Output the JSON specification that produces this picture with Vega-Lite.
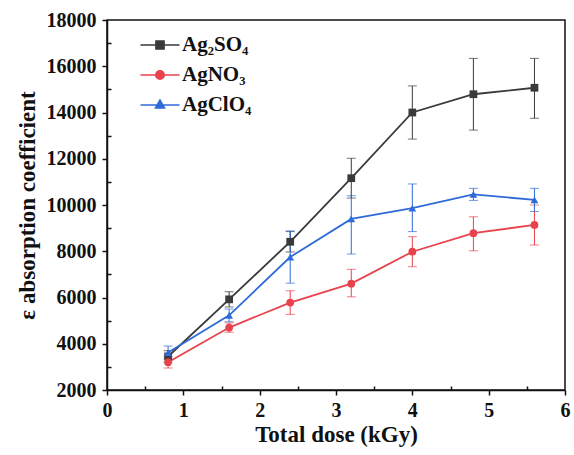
{
  "$schema": "https://vega.github.io/schema/vega-lite/v6.json",
  "autosize": "none",
  "width": 458,
  "height": 370,
  "padding": {"left": 107, "top": 20, "right": 9, "bottom": 65},
  "background": "white",
  "config": {
    "view": {"stroke": "#111", "strokeWidth": 1.5},
    "font": "Liberation Serif",
    "axis": {
      "domainColor": "#111",
      "domainWidth": 1.5,
      "tickColor": "#111",
      "tickWidth": 1.5,
      "grid": false,
      "labelFlush": false,
      "labelFont": "Liberation Serif",
      "labelFontWeight": "bold",
      "labelFontSize": 20,
      "labelColor": "#111",
      "titleFont": "Liberation Serif",
      "titleFontWeight": "bold",
      "titleFontSize": 23,
      "titleColor": "#111"
    },
    "legend": {
      "labelFont": "Liberation Serif",
      "labelFontWeight": "bold",
      "labelFontSize": 21,
      "labelColor": "#111"
    }
  },
  "data": {
    "values": [
      {"series": "Ag₂SO₄", "dose": 0.8, "value": 3450, "lo": 3200, "hi": 3700},
      {"series": "Ag₂SO₄", "dose": 1.6, "value": 5920, "lo": 5590, "hi": 6250},
      {"series": "Ag₂SO₄", "dose": 2.4, "value": 8410, "lo": 7970, "hi": 8850},
      {"series": "Ag₂SO₄", "dose": 3.2, "value": 11160, "lo": 10300, "hi": 12020},
      {"series": "Ag₂SO₄", "dose": 4.0, "value": 14000, "lo": 12850, "hi": 15150},
      {"series": "Ag₂SO₄", "dose": 4.8, "value": 14790, "lo": 13240, "hi": 16340},
      {"series": "Ag₂SO₄", "dose": 5.6, "value": 15070, "lo": 13750, "hi": 16340},
      {"series": "AgNO₃", "dose": 0.8, "value": 3200, "lo": 2950, "hi": 3450},
      {"series": "AgNO₃", "dose": 1.6, "value": 4700, "lo": 4500, "hi": 4900},
      {"series": "AgNO₃", "dose": 2.4, "value": 5780, "lo": 5270, "hi": 6290},
      {"series": "AgNO₃", "dose": 3.2, "value": 6600, "lo": 6030, "hi": 7220},
      {"series": "AgNO₃", "dose": 4.0, "value": 7980, "lo": 7330, "hi": 8630},
      {"series": "AgNO₃", "dose": 4.8, "value": 8780, "lo": 8020, "hi": 9490},
      {"series": "AgNO₃", "dose": 5.6, "value": 9140, "lo": 8270, "hi": 10000},
      {"series": "AgClO₄", "dose": 0.8, "value": 3620, "lo": 3350, "hi": 3900},
      {"series": "AgClO₄", "dose": 1.6, "value": 5230, "lo": 4950, "hi": 5500},
      {"series": "AgClO₄", "dose": 2.4, "value": 7750, "lo": 6620, "hi": 8880},
      {"series": "AgClO₄", "dose": 3.2, "value": 9400, "lo": 7880, "hi": 10400},
      {"series": "AgClO₄", "dose": 4.0, "value": 9860, "lo": 8850, "hi": 10910},
      {"series": "AgClO₄", "dose": 4.8, "value": 10460, "lo": 10200, "hi": 10720},
      {"series": "AgClO₄", "dose": 5.6, "value": 10220, "lo": 9720, "hi": 10720}
    ]
  },
  "resolve": {"axis": {"x": "independent", "y": "independent"}},
  "layer": [
    {
      "mark": {"type": "errorbar", "thickness": 1, "ticks": {"size": 9, "thickness": 1}},
      "encoding": {
        "x": {"field": "dose", "type": "quantitative", "axis": null},
        "y": {"field": "lo", "type": "quantitative", "axis": null},
        "y2": {"field": "hi"},
        "color": {
          "field": "series", "type": "nominal",
          "scale": {"domain": ["Ag₂SO₄", "AgNO₃", "AgClO₄"], "range": ["#3a3a3a", "#e8434d", "#2f6bd8"]},
          "legend": {
            "title": null,
            "orient": "none",
            "legendX": 37,
            "legendY": 9,
            "symbolSize": 900,
            "rowPadding": 4,
            "labelOffset": 6,
            "encode": {
              "symbols": {
                "update": {
                  "shape": {"signal": "datum.value === 'Ag₂SO₄' ? 'M-1.3,0H1.3M-0.27,-0.27H0.27V0.27H-0.27Z' : datum.value === 'AgNO₃' ? 'M-1.3,0H1.3M-0.28,0A0.28,0.28,0,1,1,0.28,0A0.28,0.28,0,1,1,-0.28,0Z' : 'M-1.3,0H1.3M0,-0.32L0.3,0.2H-0.3Z'"},
                  "stroke": {"signal": "scale('color', datum.value)"},
                  "fill": {"signal": "scale('color', datum.value)"},
                  "strokeWidth": {"value": 1.6},
                  "opacity": {"value": 1},
                  "fillOpacity": {"value": 1},
                  "strokeOpacity": {"value": 1}
                }
              }
            }
          }
        }
      }
    },
    {
      "mark": {"type": "line", "strokeWidth": 1.8},
      "encoding": {
        "x": {
          "field": "dose", "type": "quantitative",
          "axis": {"orient": "bottom", "values": [0.5, 1.5, 2.5, 3.5, 4.5, 5.5], "tickSize": -4, "labels": false, "domain": false, "title": null}
        },
        "y": {
          "field": "value", "type": "quantitative",
          "axis": {"orient": "left", "values": [3000, 5000, 7000, 9000, 11000, 13000, 15000, 17000], "tickSize": -4, "labels": false, "domain": false, "title": null}
        },
        "color": {"field": "series", "type": "nominal"}
      }
    },
    {
      "transform": [{"filter": "datum.series === 'Ag₂SO₄'"}],
      "mark": {"type": "point", "shape": "square", "filled": true, "size": 60, "opacity": 1},
      "encoding": {
        "x": {
          "field": "dose", "type": "quantitative",
          "scale": {"domain": [0, 6], "nice": false},
          "axis": {"orient": "bottom", "title": "Total dose (kGy)", "values": [0, 1, 2, 3, 4, 5, 6], "format": "d", "tickSize": 5, "labelPadding": 5, "titlePadding": 3}
        },
        "y": {
          "field": "value", "type": "quantitative",
          "scale": {"domain": [2000, 18000], "nice": false, "zero": false},
          "axis": {"orient": "left", "title": "ε absorption coefficient", "values": [2000, 4000, 6000, 8000, 10000, 12000, 14000, 16000, 18000], "format": "d", "tickSize": 5, "labelPadding": 6, "titlePadding": 7}
        },
        "color": {"field": "series", "type": "nominal"}
      }
    },
    {
      "transform": [{"filter": "datum.series === 'AgNO₃'"}],
      "mark": {"type": "point", "shape": "circle", "filled": true, "size": 60, "opacity": 1},
      "encoding": {
        "x": {"field": "dose", "type": "quantitative", "axis": null},
        "y": {"field": "value", "type": "quantitative", "axis": null},
        "color": {"field": "series", "type": "nominal"}
      }
    },
    {
      "transform": [{"filter": "datum.series === 'AgClO₄'"}],
      "mark": {"type": "point", "shape": "triangle-up", "filled": true, "size": 60, "opacity": 1},
      "encoding": {
        "x": {"field": "dose", "type": "quantitative", "axis": null},
        "y": {"field": "value", "type": "quantitative", "axis": null},
        "color": {"field": "series", "type": "nominal"}
      }
    }
  ]
}
